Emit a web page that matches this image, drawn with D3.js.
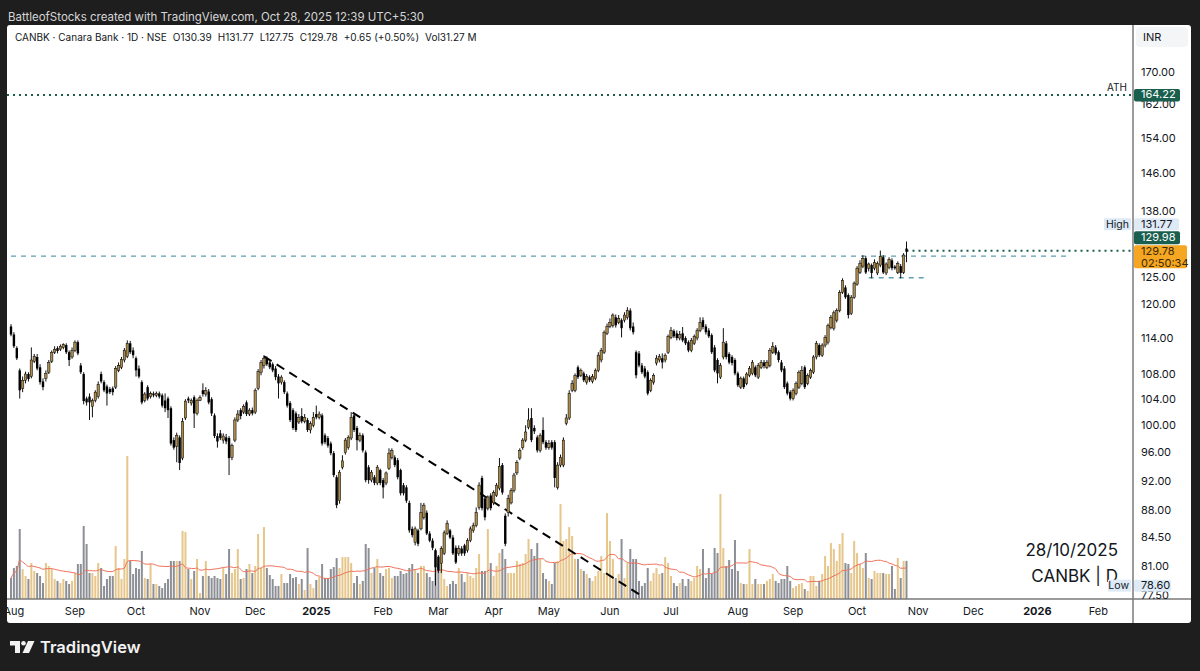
<!DOCTYPE html>
<html>
<head>
<meta charset="utf-8">
<script src="https://cdn.jsdelivr.net/npm/d3@7"></script>
<style>
  html, body { margin: 0; padding: 0; background: #1e1e1e; }
  svg text { font-family: Inter, Roboto, "DejaVu Sans", sans-serif; }
</style>
</head>
<body>
<svg id="chart" width="1200" height="671"></svg>
<script>
// ---- calendar ----
const firstDay = "2024-07-31";
const lastAxisDay = "2026-02-27";
const holidays = [
  "2024-08-15", "2024-10-02", "2024-11-15", "2024-11-20", "2024-12-25",
  "2025-02-26", "2025-03-14", "2025-03-31", "2025-04-10", "2025-04-14", "2025-04-18",
  "2025-05-01", "2025-08-15", "2025-08-27", "2025-10-02", "2025-10-22",
  "2025-11-05", "2025-12-25", "2026-01-26"
];
const monthNames = ["Jan", "Feb", "Mar", "Apr", "May", "Jun", "Jul", "Aug", "Sep", "Oct", "Nov", "Dec"];

// ---- daily candles, one line per month (Jul 31 2024 .. Oct 28 2025) ----
const opens = [
  116.0,114.6,112.3,108.6,105.7,107.0,108.0,107.6,110.1,110.8,109.1,106.8,107.3,108.3,110.1,111.6,112.3,112.1,112.4,112.8,111.6,110.8,
  111.9,113.3,109.4,108.0,104.1,104.4,102.9,103.8,104.4,108.0,106.7,106.0,105.6,105.7,105.9,108.6,109.1,110.3,110.9,113.1,111.9,
  110.6,108.9,106.7,103.8,105.9,104.4,104.9,104.6,104.9,104.6,103.8,104.1,102.6,97.8,96.9,98.2,95.2,101.1,104.1,103.4,104.3,101.8,
  103.8,105.4,104.8,105.2,104.0,101.5,98.4,98.8,97.8,98.2,98.1,95.3,97.8,100.8,102.3,102.0,103.5,101.7,102.3,
  102.0,105.7,108.3,109.4,110.6,109.9,109.6,108.9,107.6,106.7,106.7,104.9,103.4,102.3,101.8,100.5,101.4,100.6,100.8,99.3,100.0,
  101.7,101.2,101.5,98.5,98.1,97.3,95.9,92.5,89.3,93.9,96.0,96.7,98.1,101.5,99.6,97.8,98.5,96.0,93.9,92.1,92.5,91.7,93.5,
  92.1,91.7,93.7,95.3,95.3,94.9,93.5,91.4,91.1,89.0,85.6,83.9,85.4,85.6,87.1,87.7,85.0,84.1,82.9,
  82.1,81.3,82.5,85.0,85.4,84.5,83.2,82.5,83.1,83.5,82.9,84.1,85.4,86.0,88.4,92.4,89.6,88.3,90.0,
  89.0,90.0,91.0,94.2,87.3,87.7,89.0,90.7,93.1,95.2,96.7,97.8,99.7,101.1,99.6,98.2,96.3,99.3,97.5,
  96.7,97.5,97.5,91.1,94.2,94.2,100.3,101.1,105.4,105.4,109.1,107.8,108.1,106.7,107.5,106.8,107.3,108.6,110.3,111.6,114.8,
  116.0,116.2,117.6,116.7,117.1,117.1,117.6,118.8,116.0,111.6,111.4,109.4,108.9,108.3,105.4,106.7,109.8,110.3,110.6,110.3,111.6,
  114.1,115.2,114.8,114.0,114.8,114.0,113.3,111.9,113.1,114.0,115.3,117.1,116.0,115.3,114.5,112.4,110.3,107.5,110.8,113.1,111.3,110.8,110.3,
  108.1,105.9,107.3,106.5,107.8,108.1,109.1,107.5,109.1,109.9,109.1,109.4,111.6,112.4,111.6,109.9,108.9,106.5,105.1,
  104.1,104.9,105.9,106.5,109.1,106.5,107.5,108.3,110.8,112.8,111.1,112.8,113.3,115.8,115.7,117.1,118.8,122.1,123.0,121.6,118.3,121.2,
  123.6,125.8,127.0,128.5,126.6,127.2,126.6,125.7,127.2,128.7,125.7,126.8,128.1,126.9,125.8,127.0,125.8,130.39
];
const highs = [
  116.4,115.0,112.6,108.9,107.6,108.4,108.3,112.4,111.3,111.3,109.6,107.3,108.6,110.3,111.9,112.6,112.6,112.9,113.1,113.1,111.9,112.4,
  113.6,113.6,109.8,108.3,104.4,104.9,104.1,105.4,106.8,108.4,107.0,106.3,105.9,106.0,109.3,109.9,110.8,112.3,113.6,113.5,112.4,
  110.9,109.4,107.0,105.1,106.2,105.2,105.2,105.2,105.2,104.9,104.9,104.4,102.9,98.2,98.9,98.5,101.1,104.0,104.4,104.1,104.6,104.1,
  104.6,106.5,105.9,105.6,104.3,101.8,98.8,99.3,98.8,98.7,98.4,97.3,101.2,102.3,102.6,103.2,103.8,102.6,102.7,
  105.7,108.8,110.3,111.1,110.9,110.3,109.9,109.3,108.0,107.8,107.0,105.2,103.7,102.6,102.1,101.7,102.6,101.7,101.1,100.6,102.0,
  103.0,102.1,101.8,98.8,98.4,97.6,96.2,92.8,93.5,95.6,98.1,98.5,102.0,101.8,99.9,98.9,98.8,96.3,94.2,93.5,92.8,94.2,93.7,
  92.4,93.3,96.6,96.6,95.6,95.2,93.7,91.7,91.4,89.3,85.9,85.9,85.6,89.0,89.0,88.0,85.3,84.4,83.1,
  82.3,83.4,85.4,86.7,85.6,84.8,83.5,83.5,83.4,83.7,84.4,85.9,86.4,88.4,91.8,92.7,89.9,90.0,90.3,
  90.7,91.7,95.2,94.5,87.6,90.1,91.0,93.1,94.9,96.6,98.1,100.0,102.6,102.6,100.0,98.5,98.8,101.2,97.8,
  97.8,97.8,97.8,94.6,95.7,98.2,101.7,105.4,107.0,108.1,109.4,108.9,108.4,108.0,107.8,108.0,108.9,111.6,112.3,115.3,116.5,
  117.4,118.3,118.1,118.0,117.4,118.5,119.4,119.2,116.7,111.9,111.8,109.8,109.3,108.6,107.3,108.1,111.1,111.3,111.4,111.4,114.6,
  115.9,115.5,115.3,115.2,115.9,114.3,113.6,114.0,114.6,115.7,117.6,117.6,116.4,115.7,114.8,112.8,110.6,109.8,115.7,113.5,111.6,111.1,110.6,
  108.4,107.6,107.6,108.3,109.3,110.3,109.4,109.8,110.3,110.3,110.3,112.3,113.3,112.8,111.9,110.3,109.3,106.8,105.4,
  105.7,106.8,108.6,109.3,109.4,108.1,108.9,111.1,113.5,113.1,113.1,114.5,116.5,118.0,118.8,119.2,122.5,124.7,123.4,121.9,121.6,124.1,
  127.0,128.1,129.1,128.9,127.7,127.5,128.3,127.9,130.0,129.1,127.7,128.7,128.5,127.2,127.9,127.4,129.5,131.77
];
const lows = [
  114.3,112.3,110.3,104.1,105.1,106.5,106.8,107.3,109.8,108.6,106.3,105.4,106.8,108.0,109.8,111.3,111.4,111.8,112.1,111.3,109.3,110.5,
  111.6,111.1,108.0,103.2,103.0,100.8,101.2,103.5,104.1,106.5,105.1,103.0,104.8,104.6,105.6,108.3,108.8,109.9,110.6,111.3,110.6,
  107.6,107.3,103.2,103.5,103.8,104.1,104.3,104.3,104.1,102.7,102.0,101.1,97.0,96.4,94.6,93.5,94.9,100.8,103.4,103.0,99.6,101.5,
  103.7,104.4,104.4,103.2,101.4,98.1,96.7,97.8,97.3,97.2,92.8,94.9,97.5,100.5,100.9,101.7,101.4,101.4,101.5,
  101.7,105.4,107.8,108.9,109.3,108.8,108.3,107.0,104.1,106.3,104.8,102.7,100.5,99.3,99.0,100.2,100.3,100.3,99.0,98.8,99.7,
  100.9,100.9,97.0,97.2,96.7,95.6,92.5,88.3,88.9,93.6,95.7,96.4,97.8,99.0,96.3,97.5,96.0,91.8,91.6,91.8,91.4,91.4,91.4,
  89.6,91.4,93.5,95.0,93.9,92.2,90.0,90.0,89.0,85.1,84.5,83.5,83.4,85.4,86.8,84.8,83.9,82.9,78.6,
  80.1,80.1,82.3,84.8,84.3,82.3,81.2,82.2,82.2,82.2,82.6,83.9,85.1,85.8,88.1,88.0,86.7,88.0,88.0,
  88.7,89.8,90.7,90.1,83.4,87.2,88.8,90.4,92.8,94.9,96.4,97.5,99.4,97.5,98.7,96.0,96.0,97.2,96.4,
  96.4,96.4,91.1,90.8,93.9,93.9,100.0,100.8,105.1,105.1,107.2,107.5,106.7,106.3,106.7,106.5,107.0,108.3,109.9,111.3,114.5,
  115.7,115.8,115.8,116.4,114.1,116.7,117.2,115.3,114.6,107.3,109.1,108.0,107.3,104.6,105.1,106.3,109.4,109.9,108.9,109.9,111.3,
  113.8,114.0,113.6,113.6,113.3,112.8,111.6,111.6,112.8,113.6,115.0,115.5,114.6,114.0,111.3,108.3,106.5,107.2,110.4,110.4,109.6,109.4,107.8,
  105.9,105.6,105.6,106.2,107.5,107.8,107.5,107.2,108.8,108.9,108.8,109.1,111.3,111.1,109.9,108.3,105.6,104.6,103.8,
  103.8,104.6,105.6,106.2,105.6,106.2,107.2,108.0,110.4,110.8,110.8,112.4,112.9,115.5,115.3,116.7,118.5,121.8,120.9,117.4,118.0,120.9,
  123.3,125.5,126.6,125.5,126.0,124.7,126.2,125.3,126.8,125.5,125.3,126.4,126.2,126.3,125.5,124.7,125.5,127.75
];
const closes = [
  114.6,112.6,110.6,105.4,107.0,108.0,107.2,110.3,110.9,108.9,106.7,105.9,108.1,109.9,111.6,112.1,111.8,112.6,112.9,111.6,110.3,111.9,
  113.3,111.4,108.3,103.7,103.5,103.5,103.8,105.1,106.3,106.8,105.4,104.9,105.1,105.1,108.9,109.4,110.4,111.9,113.1,111.6,111.1,
  108.6,107.6,103.5,104.8,104.1,104.9,104.6,104.9,104.4,103.0,102.6,102.3,97.3,96.7,98.5,94.5,100.6,103.7,103.8,103.8,101.8,103.8,
  104.3,104.8,105.4,103.5,101.8,98.4,97.6,98.1,98.4,97.6,95.2,97.0,100.8,101.7,101.4,102.9,101.7,102.3,101.8,
  105.4,108.4,109.9,110.6,109.6,109.1,108.6,107.5,106.5,107.5,105.1,103.0,100.8,99.6,99.3,101.2,100.6,101.2,99.3,100.3,101.2,
  101.2,101.7,97.3,97.5,97.0,95.9,92.8,88.7,93.2,94.8,97.8,98.2,101.2,99.3,97.8,98.5,96.3,92.1,92.1,93.2,91.7,93.9,91.7,
  91.1,93.1,95.9,96.3,94.2,92.5,90.3,90.3,89.3,85.4,84.8,85.6,83.7,87.7,88.7,85.0,84.1,83.2,80.8,
  80.4,83.1,85.1,86.3,84.5,82.5,81.4,83.1,82.5,82.5,84.1,85.6,86.0,87.7,91.4,88.3,87.1,89.8,88.3,
  90.4,91.4,94.0,90.4,83.7,89.6,90.7,92.8,94.6,96.3,97.8,99.0,100.8,97.8,99.1,96.3,98.5,97.5,96.7,
  97.3,96.7,92.4,94.2,95.3,97.8,101.1,104.9,106.5,107.8,107.5,108.6,107.0,107.6,107.0,107.6,108.6,111.1,111.9,115.0,116.0,
  116.7,118.0,116.2,117.4,115.7,118.0,118.8,115.7,115.0,107.8,109.4,108.3,107.6,104.9,107.0,107.8,110.6,110.9,109.9,111.1,114.3,
  115.3,114.3,114.0,114.6,113.6,113.1,111.9,113.6,114.3,115.3,116.7,115.9,115.0,114.3,111.6,108.6,108.1,109.4,113.3,110.8,109.9,109.8,108.1,
  106.2,107.3,105.9,108.0,108.9,109.9,107.8,109.4,109.9,109.3,109.9,111.9,112.6,111.4,110.3,108.6,105.9,104.9,104.1,
  105.4,106.5,108.3,108.6,105.9,107.8,108.6,110.8,113.1,111.1,112.8,114.1,116.2,117.6,118.4,118.8,122.1,124.3,121.2,118.0,121.2,123.8,
  126.6,127.5,128.5,125.8,127.4,125.7,127.7,127.5,128.9,125.8,127.4,128.3,126.6,126.6,127.5,125.7,129.13,129.78
];
// volume in millions of shares
const volumes = [
  17.2,25.4,27.1,57.4,24.6,18.9,16.4,29.5,23.0,21.3,18.9,13.1,29.5,27.1,24.6,16.4,14.8,13.1,16.4,14.8,12.3,14.8,
  21.3,28.7,28.7,59.9,45.1,21.3,21.3,18.9,29.5,25.4,10.7,16.4,18.9,18.9,43.5,25.4,16.4,32.8,117.3,31.2,20.5,
  25.4,24.6,39.4,17.2,16.4,28.7,12.3,12.3,10.7,9.0,13.1,16.4,31.2,31.2,31.2,31.2,55.8,54.9,24.6,16.4,23.0,32.8,
  4.9,18.9,31.2,18.9,17.2,18.9,17.2,16.4,25.4,20.5,41.0,21.3,24.6,41.0,16.4,17.2,24.6,28.7,21.3,
  27.1,53.3,25.4,59.0,25.4,19.7,16.4,10.7,10.7,20.5,13.1,13.1,20.5,17.2,18.0,12.3,16.4,7.4,41.8,12.3,9.0,
  15.6,18.0,28.7,17.2,17.2,24.6,26.2,33.6,25.4,34.4,34.4,34.4,29.5,13.1,18.9,12.3,14.8,45.1,41.8,21.3,25.4,32.8,21.3,
  18.9,24.6,25.4,17.2,18.9,18.9,23.0,20.5,21.3,25.4,28.7,24.6,21.3,27.1,27.1,21.3,18.0,14.8,39.4,
  28.7,32.0,16.4,10.7,12.3,14.8,12.3,25.4,20.5,13.9,21.3,18.9,17.2,25.4,36.9,23.0,23.0,57.4,29.5,
  18.9,27.1,37.7,41.0,32.8,21.3,21.3,21.3,31.2,28.7,29.5,36.9,49.2,41.0,35.3,45.9,32.8,21.3,16.4,
  14.8,12.3,29.5,31.2,77.9,47.6,49.2,59.0,51.7,32.8,32.8,24.6,23.0,20.5,17.2,14.8,18.9,23.0,35.3,21.3,70.5,
  47.6,32.8,17.2,20.5,49.2,17.2,29.5,41.0,32.8,32.8,14.8,10.7,13.1,25.4,14.8,21.3,25.4,20.5,21.3,34.4,29.5,
  18.9,13.1,10.7,13.1,16.4,10.7,16.4,14.8,17.2,27.1,24.6,41.0,17.2,25.4,20.5,41.8,37.7,86.1,41.8,27.1,32.0,24.6,48.4,
  23.0,13.1,12.3,12.3,41.0,12.3,16.4,12.3,12.3,12.3,14.8,16.4,20.5,14.8,13.1,16.4,16.4,27.1,14.8,
  9.0,10.7,12.3,13.1,8.2,6.6,18.9,18.9,10.7,14.8,20.5,35.3,27.1,45.9,41.0,31.2,45.1,54.1,29.5,28.7,21.3,47.6,
  37.7,28.7,25.4,37.7,17.2,16.4,23.0,21.3,21.3,21.3,20.5,20.5,27.1,8.2,33.6,17.2,31.2,31.27
];

// ---- price scale ----
const priceTicks = [170, 162, 154, 146, 138, 125, 120, 114, 108, 104, 100, 96, 92, 88, 84.5, 81, 77.5];
const athPrice = 164.22;
const markedPrice = 129.98;
const rangeHigh = 131.77;
const rangeLow = 78.60;
const countdown = "02:50:34";

// ---- drawings ----
const trendPoints = [{ date: "2024-12-05", price: 110.9 }, { date: "2025-06-16", price: 77.6 }];
const dashedLevels = [
  { from: "2024-07-31", to: "2026-01-16", price: 128.9 },
  { from: "2025-10-08", to: "2025-11-06", price: 124.8 }
];
const noteLines = ["28/10/2025", "CANBK | D"];

// ---- colours ----
const colors = {
  frame: "#1e1e1e",
  text: "#131722",
  up: "#a98a4c",
  down: "#000000",
  volUp: "#e6c68a",
  volDown: "#8c8f96",
  volMa: "#f0705a",
  level: "#1a5f4e",
  dashed: "#5f9fb2",
  rangeBox: "#dfeaf7",
  last: "#f5a623"
};

function isoDay(d) { return d.toISOString().slice(0, 10); }

function tradingDays(start, end, skip) {
  const out = [];
  const skipSet = new Set(skip);
  const stop = new Date(end + "T00:00:00Z");
  for (let d = new Date(start + "T00:00:00Z"); d <= stop; d.setUTCDate(d.getUTCDate() + 1)) {
    const wd = d.getUTCDay();
    if (wd !== 0 && wd !== 6 && !skipSet.has(isoDay(d))) out.push(new Date(d));
  }
  return out;
}

const days = tradingDays(firstDay, lastAxisDay, holidays);
const n = d3.min([opens.length, highs.length, lows.length, closes.length, volumes.length]);
const bars = d3.range(n).map(i => ({
  i: i, o: opens[i], h: highs[i], l: lows[i], c: closes[i], v: volumes[i]
}));
const dayIndex = s => days.findIndex(d => isoDay(d) === s);

const pane = { left: 7, top: 25, right: 1133, bottom: 599 };
const panel = { left: 7, top: 25, right: 1191, bottom: 623 };

const x = d3.scaleLinear().domain([0, n - 1]).range([11, 906.5]);
const y = d3.scaleLog().domain([100, 170]).range([425.3, 71.9]);
const yVol = d3.scaleLinear().domain([0, 120]).range([pane.bottom, pane.bottom - 146.3]);

const svg = d3.select("#chart");

// frame + header
svg.append("rect").attr("width", 1200).attr("height", 671).attr("fill", colors.frame);
svg.append("text")
  .attr("x", 8).attr("y", 21)
  .attr("font-size", "11.5px").attr("fill", "#d6d6d6")
  .text("BattleofStocks created with TradingView.com, Oct 28, 2025 12:39 UTC+5:30");
svg.append("rect")
  .attr("x", panel.left).attr("y", panel.top)
  .attr("width", panel.right - panel.left).attr("height", panel.bottom - panel.top)
  .attr("rx", 3).attr("fill", "#ffffff");

const defs = svg.append("defs");
defs.append("clipPath").attr("id", "pane-clip").append("rect")
  .attr("x", pane.left).attr("y", pane.top)
  .attr("width", pane.right - pane.left).attr("height", pane.bottom - pane.top);
defs.append("clipPath").attr("id", "time-clip").append("rect")
  .attr("x", pane.left).attr("y", pane.bottom)
  .attr("width", pane.right - pane.left).attr("height", panel.bottom - pane.bottom);
defs.append("clipPath").attr("id", "scale-clip").append("rect")
  .attr("x", pane.right).attr("y", pane.top)
  .attr("width", panel.right - pane.right).attr("height", pane.bottom - pane.top);

const plot = svg.append("g").attr("clip-path", "url(#pane-clip)");

// volume
plot.append("g").selectAll("rect")
  .data(bars)
  .enter()
  .append("rect")
  .attr("x", d => x(d.i) - 1)
  .attr("y", d => yVol(d.v))
  .attr("width", 2)
  .attr("height", d => yVol(0) - yVol(d.v))
  .attr("fill", d => d.c >= d.o ? colors.volUp : colors.volDown);

const volMa = bars.map(d => ({ i: d.i, v: d3.mean(volumes.slice(Math.max(0, d.i - 19), d.i + 1)) }));
plot.append("path")
  .datum(volMa)
  .attr("fill", "none")
  .attr("stroke", colors.volMa)
  .attr("stroke-width", 1)
  .attr("d", d3.line().x(d => x(d.i)).y(d => yVol(d.v)).curve(d3.curveMonotoneX));

// horizontal levels
plot.append("line")
  .attr("x1", pane.left).attr("x2", pane.right)
  .attr("y1", y(athPrice)).attr("y2", y(athPrice))
  .attr("stroke", colors.level).attr("stroke-width", 2).attr("stroke-dasharray", "2,4");
plot.append("line")
  .attr("x1", x(n - 1)).attr("x2", pane.right)
  .attr("y1", y(markedPrice)).attr("y2", y(markedPrice))
  .attr("stroke", colors.level).attr("stroke-width", 2).attr("stroke-dasharray", "2,4");
plot.append("g").selectAll("line")
  .data(dashedLevels)
  .enter()
  .append("line")
  .attr("x1", d => x(dayIndex(d.from)))
  .attr("x2", d => x(dayIndex(d.to)))
  .attr("y1", d => y(d.price))
  .attr("y2", d => y(d.price))
  .attr("stroke", colors.dashed).attr("stroke-width", 1.3).attr("stroke-dasharray", "5,5");

// trend line
plot.append("line")
  .attr("x1", x(dayIndex(trendPoints[0].date))).attr("y1", y(trendPoints[0].price))
  .attr("x2", x(dayIndex(trendPoints[1].date))).attr("y2", y(trendPoints[1].price))
  .attr("stroke", "#000").attr("stroke-width", 2).attr("stroke-dasharray", "9,6");

// candles
const candles = plot.append("g").selectAll("g")
  .data(bars)
  .enter()
  .append("g");
candles.append("line")
  .attr("x1", d => x(d.i)).attr("x2", d => x(d.i))
  .attr("y1", d => y(d.h)).attr("y2", d => y(d.l))
  .attr("stroke", "#111").attr("stroke-width", 1);
candles.append("rect")
  .attr("x", d => x(d.i) - 1.2)
  .attr("y", d => y(Math.max(d.o, d.c)))
  .attr("width", 2.4)
  .attr("height", d => Math.max(1, Math.abs(y(d.o) - y(d.c))))
  .attr("fill", d => d.c >= d.o ? colors.up : colors.down)
  .attr("stroke", "#000")
  .attr("stroke-width", d => d.c >= d.o ? 0.5 : 0);

// note text (the second line sits just above the Low caption)
plot.selectAll(".note")
  .data(noteLines)
  .enter()
  .append("text")
  .attr("class", "note")
  .attr("x", 1118)
  .attr("y", (d, i) => 556 + i * 26)
  .attr("text-anchor", "end")
  .attr("font-size", "17px")
  .attr("fill", colors.text)
  .text(d => d);

// ATH caption
svg.append("text")
  .attr("x", 1127).attr("y", y(athPrice) - 4)
  .attr("text-anchor", "end").attr("font-size", "10px").attr("fill", colors.text)
  .text("ATH");

// separators
svg.append("line")
  .attr("x1", pane.right).attr("x2", pane.right)
  .attr("y1", panel.top).attr("y2", panel.bottom)
  .attr("stroke", "#7a7a7a").attr("stroke-width", 1.5);
svg.append("line")
  .attr("x1", panel.left).attr("x2", panel.right)
  .attr("y1", pane.bottom).attr("y2", pane.bottom)
  .attr("stroke", "#7a7a7a").attr("stroke-width", 1.5);

// time axis labels
const monthTicks = [];
days.forEach((d, i) => {
  if (i > 0 && d.getUTCMonth() !== days[i - 1].getUTCMonth()) {
    const m = d.getUTCMonth();
    monthTicks.push({ i: i, label: m === 0 ? String(d.getUTCFullYear()) : monthNames[m], bold: m === 0 });
  }
});
svg.append("g").attr("clip-path", "url(#time-clip)")
  .selectAll("text")
  .data(monthTicks)
  .enter()
  .append("text")
  .attr("x", d => x(d.i))
  .attr("y", 614.5)
  .attr("text-anchor", "middle")
  .attr("font-size", "11px")
  .attr("font-weight", d => d.bold ? 700 : 400)
  .attr("fill", colors.text)
  .text(d => d.label);

// price scale
const scaleG = svg.append("g").attr("clip-path", "url(#scale-clip)");
scaleG.append("rect")
  .attr("x", 1136).attr("y", 27).attr("width", 52).attr("height", 20).attr("rx", 4)
  .attr("fill", "#f4f5f7");
scaleG.append("text")
  .attr("x", 1143).attr("y", 41).attr("font-size", "11px").attr("fill", colors.text)
  .text("INR");

// boxes that TradingView stacks on the scale
const lastTop = y(closes[n - 1]) - 6.5;
const markTop = lastTop - 14;
const highTop = markTop - 13;
const athTop = y(athPrice) - 6;
const lowTop = y(rangeLow) - 6;

// a tick label is skipped when a value box hides most of it
const covered = [[athTop, athTop + 12.5], [highTop, lastTop + 23], [lowTop, lowTop + 12]];
const visibleTicks = priceTicks.filter(p => {
  const c = y(p);
  return !covered.some(r => c > r[0] - 1 && c < r[1] + 1);
});
scaleG.selectAll(".tick")
  .data(visibleTicks)
  .enter()
  .append("text")
  .attr("class", "tick")
  .attr("x", 1141)
  .attr("y", d => y(d) + 4)
  .attr("font-size", "11px")
  .attr("fill", colors.text)
  .text(d => d.toFixed(2));

function valueBox(g, top, h, fill, lines, textFill, w) {
  g.append("rect").attr("x", pane.right + 1).attr("y", top).attr("width", w).attr("height", h)
    .attr("rx", 2).attr("fill", fill);
  lines.forEach((t, k) => {
    g.append("text").attr("x", 1141).attr("y", top + 9.5 + k * 12)
      .attr("font-size", "11px").attr("fill", textFill).text(t);
  });
}

valueBox(scaleG, athTop, 12.5, colors.level, [athPrice.toFixed(2)], "#ffffff", 46);
valueBox(scaleG, highTop, 12, colors.rangeBox, [rangeHigh.toFixed(2)], colors.text, 45);
valueBox(scaleG, markTop, 13, colors.level, [markedPrice.toFixed(2)], "#ffffff", 46);
valueBox(scaleG, lastTop, 23, colors.last, [closes[n - 1].toFixed(2), countdown], "#3a2a00", 53);
valueBox(scaleG, lowTop, 12, colors.rangeBox, [rangeLow.toFixed(2)], colors.text, 37);

// High / Low captions left of the scale
[{ t: "High", top: highTop, w: 27 }, { t: "Low", top: lowTop, w: 23 }].forEach(c => {
  svg.append("rect").attr("x", pane.right - 2 - c.w).attr("y", c.top).attr("width", c.w).attr("height", 12)
    .attr("fill", colors.rangeBox);
  svg.append("text").attr("x", pane.right - 4).attr("y", c.top + 9.5)
    .attr("text-anchor", "end").attr("font-size", "10.5px").attr("fill", colors.text).text(c.t);
});

// legend, laid out left to right
const last = n - 1;
const chg = closes[last] - closes[last - 1];
const legendParts = [
  "CANBK · Canara Bank · 1D · NSE",
  "O" + opens[last].toFixed(2),
  "H" + highs[last].toFixed(2),
  "L" + lows[last].toFixed(2),
  "C" + closes[last].toFixed(2),
  "+" + chg.toFixed(2) + " (+" + (chg / closes[last - 1] * 100).toFixed(2) + "%)",
  "Vol" + volumes[last].toFixed(2) + " M"
];
const legend = svg.append("g");
let legendX = 15;
legendParts.forEach(t => {
  const node = legend.append("text")
    .attr("x", legendX)
    .attr("y", 41)
    .attr("font-size", "10px")
    .attr("fill", colors.text)
    .text(t);
  legendX += node.node().getComputedTextLength() + 6;
});

// TradingView logo
const logo = svg.append("g").attr("fill", "#f2f2f2");
logo.append("rect").attr("x", 10).attr("y", 641).attr("width", 10).attr("height", 4.5);
logo.append("rect").attr("x", 15).attr("y", 641).attr("width", 5).attr("height", 12);
logo.append("circle").attr("cx", 23.5).attr("cy", 643.3).attr("r", 2.3);
logo.append("path").attr("d", "M28,641 L34.5,641 L29,653 L22.5,653 Z");
logo.append("text")
  .attr("x", 40).attr("y", 653)
  .attr("font-size", "16.5px").attr("font-weight", 600)
  .text("TradingView");
</script>
</body>
</html>
